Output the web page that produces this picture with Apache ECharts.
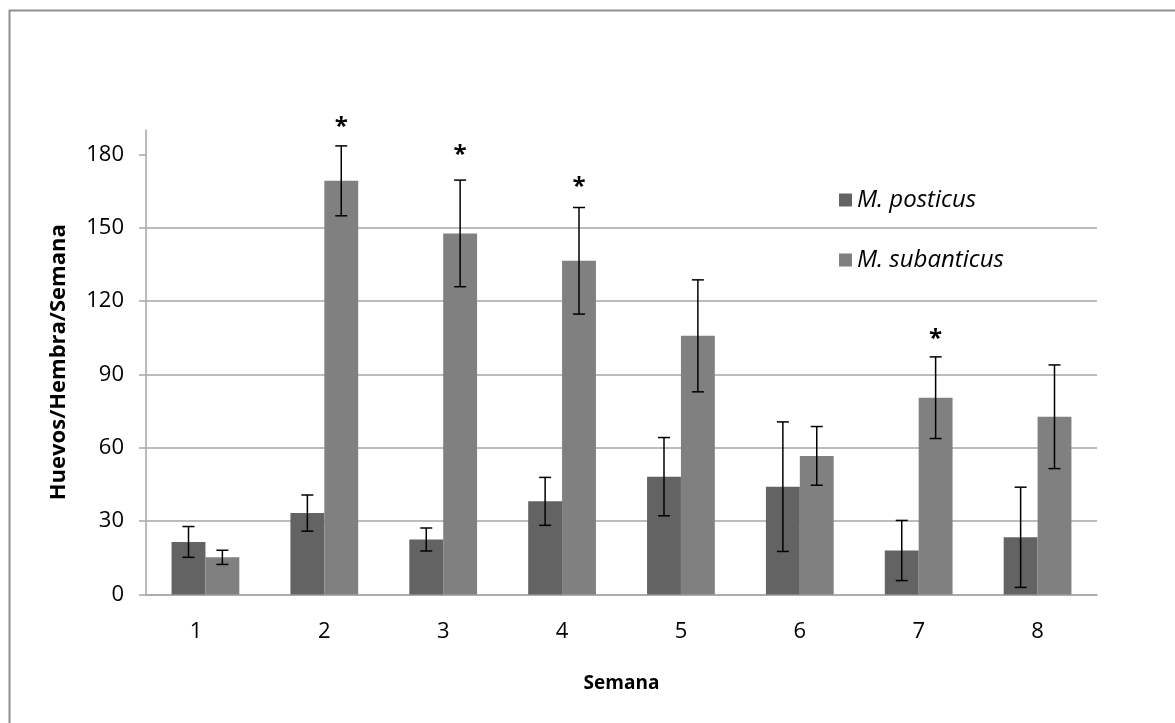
<!DOCTYPE html>
<html>
<head>
<meta charset="utf-8">
<script src="https://cdn.jsdelivr.net/npm/echarts@6/dist/echarts.min.js"></script>
<style>html,body{margin:0;padding:0;background:#fff;}#c{width:1175px;height:723px;}</style>
</head>
<body>
<div id="c"></div>
<script>
const weeks = ['1','2','3','4','5','6','7','8'];
const posticus = [21.5, 33.3, 22.5, 38.1, 48.2, 44.1, 18.0, 23.4];
const posticusErr = [6.3, 7.4, 4.7, 9.8, 16.0, 26.5, 12.3, 20.5];
const subanticus = [15.2, 169.2, 147.7, 136.5, 105.8, 56.7, 80.5, 72.7];
const subanticusErr = [2.9, 14.3, 21.8, 21.8, 22.9, 12.0, 16.7, 21.2];
const starAt = [null, 194.4, 182.8, 169.7, null, null, 107.7, null];
const yTicks = [0, 30, 60, 90, 120, 150, 180];
const seriesNames = ['M. posticus', 'M. subanticus'];

const FONT = 'Open Sans';
const chart = echarts.init(document.getElementById('c'));

function errSeries(vals, errs, side) {
  return {
    type: 'custom',
    z: 5,
    silent: true,
    data: vals.map((v, i) => [i, v - errs[i], v + errs[i]]),
    renderItem: function (params, api) {
      const i = api.value(0);
      const band = api.size([1, 0])[0];
      const bw = band * 0.57 / 2;
      const lo = api.coord([i, api.value(1)]);
      const hi = api.coord([i, api.value(2)]);
      const x = lo[0] + side * bw / 2;
      const cap = 6;
      const st = { stroke: '#000', lineWidth: 1.5 };
      return {
        type: 'group',
        children: [
          { type: 'line', shape: { x1: x, y1: lo[1], x2: x, y2: hi[1] }, style: st },
          { type: 'line', shape: { x1: x - cap, y1: lo[1], x2: x + cap, y2: lo[1] }, style: st },
          { type: 'line', shape: { x1: x - cap, y1: hi[1], x2: x + cap, y2: hi[1] }, style: st }
        ]
      };
    }
  };
}

chart.setOption({
  animation: false,
  backgroundColor: '#fff',
  graphic: [{
    type: 'rect', left: 7, top: 8, z: -10,
    shape: { width: 1300, height: 900 },
    style: { fill: 'none', stroke: '#8f8f8f', lineWidth: 2 }
  }],
  grid: { left: 146, right: 78, top: 130, bottom: 128.5, containLabel: false },
  legend: {
    orient: 'vertical',
    left: 834, top: 182,
    itemWidth: 13, itemHeight: 13,
    itemGap: 34,
    icon: 'rect',
    data: seriesNames,
    textStyle: { fontFamily: FONT, fontStyle: 'italic', fontSize: 24, color: '#000', lineHeight: 26 }
  },
  xAxis: {
    type: 'category',
    data: weeks,
    name: 'Semana',
    nameLocation: 'middle',
    nameGap: 80,
    nameTextStyle: { fontFamily: FONT, fontWeight: 'bold', fontSize: 19, color: '#000' },
    axisLine: { lineStyle: { color: '#a6a6a6', width: 1.5 } },
    axisTick: { show: false },
    axisLabel: {
      margin: 26, fontFamily: FONT, fontSize: 22, color: '#000',
      formatter: function (v, i) { return i === 0 ? '{f|' + v + '}' : v; },
      rich: { f: { fontFamily: FONT, fontSize: 22, color: '#000', padding: [0, 19, 0, 0] } }
    }
  },
  yAxis: {
    type: 'value',
    min: 0, max: 190, interval: 30,
    name: 'Huevos/Hembra/Semana',
    nameLocation: 'middle',
    nameGap: 76,
    nameTextStyle: { fontFamily: FONT, fontWeight: 'bold', fontSize: 22, color: '#000' },
    axisLine: { show: true, lineStyle: { color: '#a6a6a6', width: 1.5 } },
    axisTick: { show: true, inside: false, length: 7, customValues: yTicks, lineStyle: { color: '#a6a6a6', width: 1.5 } },
    axisLabel: { margin: 22, customValues: yTicks, fontFamily: FONT, fontSize: 22, color: '#000' },
    splitLine: { show: true, showMaxLine: false, lineStyle: { color: '#a6a6a6', width: 1.5 } }
  },
  series: [
    {
      name: seriesNames[0], type: 'bar', data: posticus,
      barGap: '0%', barCategoryGap: '43%',
      itemStyle: { color: '#636363' }
    },
    {
      name: seriesNames[1], type: 'bar', data: subanticus,
      barGap: '0%', barCategoryGap: '43%',
      itemStyle: { color: '#808080' }
    },
    errSeries(posticus, posticusErr, -1),
    errSeries(subanticus, subanticusErr, 1),
    {
      type: 'custom',
      z: 6,
      silent: true,
      clip: false,
      data: starAt.map((v, i) => [i, v]).filter(d => d[1] !== null),
      renderItem: function (params, api) {
        const i = api.value(0);
        const band = api.size([1, 0])[0];
        const bw = band * 0.57 / 2;
        const p = api.coord([i, api.value(1)]);
        return {
          type: 'text',
          style: {
            x: p[0] + bw / 2, y: p[1] + 8, text: '*',
            fill: '#000', font: 'bold 24px "' + FONT + '"',
            textAlign: 'center', textVerticalAlign: 'middle'
          }
        };
      }
    }
  ]
});
</script>
</body>
</html>
